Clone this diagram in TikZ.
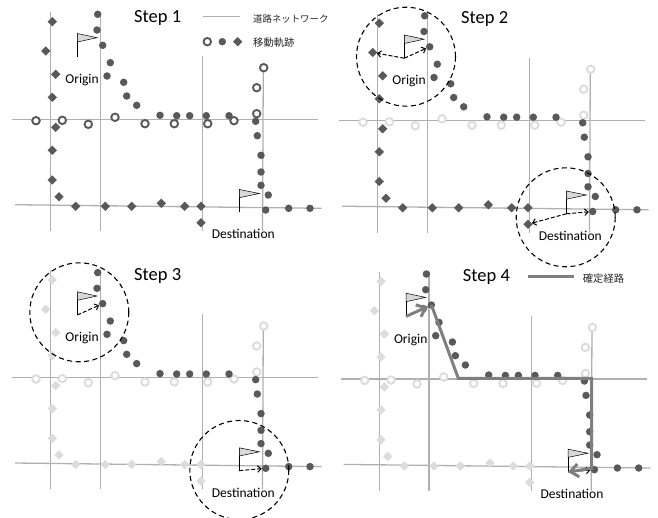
\documentclass[tikz,border=0pt]{standalone}
\usepackage{fontspec}
\setmainfont{Carlito}
\newfontfamily\cjkfont{Noto Sans CJK JP}
\usetikzlibrary{arrows.meta,shapes.geometric}
\definecolor{ink}{HTML}{595959}
\definecolor{faded}{HTML}{DCDCDC}
\definecolor{roadgray}{HTML}{B0B0B0}
\definecolor{routegray}{HTML}{7F7F7F}
\definecolor{flaggray}{HTML}{D9D9D9}
\tikzset{
  road/.style={draw=roadgray, line width=1.3pt},
  dotmark/.style={circle, fill=ink, inner sep=0pt, minimum size=7.5pt},
  diamark/.style={diamond, fill=#1, inner sep=0pt, minimum size=9.5pt},
  diamark/.default=ink,
  ringmark/.style={circle, draw=#1, fill=white, line width=1.9pt,
    inner sep=0pt, minimum size=7.5pt},
  ringmark/.default=ink,
  flagcloth/.style={draw=black, fill=flaggray, line width=0.5pt},
  flagpole/.style={draw=black, line width=0.8pt},
  searcharea/.style={circle, draw=black, dashed, dash pattern=on 5pt off 3.5pt,
    line width=1.1pt, inner sep=0pt, minimum size=99pt},
  searcharrow/.style={draw=black, line width=1pt, dash pattern=on 4pt off 2pt,
    -{Straight Barb[length=3.5pt,width=6.5pt]}},
  routeline/.style={draw=routegray, line width=3pt},
  routearrow/.style={routeline, -{Straight Barb[length=8pt,width=13pt]}},
  steptitle/.style={font=\fontsize{18.5}{20}\selectfont},
  placelabel/.style={font=\fontsize{13.5}{15}\selectfont},
  legendtext/.style={font=\cjkfont\fontsize{#1}{11}\selectfont, text=black!85, anchor=west, inner sep=0pt},
  legendtext/.default=10.3,
}
\newcommand{\diamondpts}{52.3/21.7,45.7/51,55.7/74.3,52.3/97.3,55.7/127.3,52.3/150.3,52.3/180,59/196.7,75.7/206.3,105.3/206.3,131.7/206.3,161.3/203.3,184.7/206.3,201/206.3,201/222.7}
\newcommand{\dotpts}{97.7/14.3,97/30,102.7/45.3,110.3/62.7,107/76,123.7/82.3,126.7/96,136.7/105.3,160/115.3,176.7/115.7,189.7/115.7,206.3/115.7,229/115.7,255.7/121.3,257.3/135.7,261/155.3,261/172,261/185.3,268.3/195,265.7/210,288.7/208.3,310/208.3}
\newcommand{\ringpts}{36/120.7,62.3/120.3,88.3/124.3,115/117.3,145/123.7,174.3/123.7,207.7/123.7,234/120.7,256.7/113.7,256.7/87.7,263.7/67.7}
% #1 prefix, #2 shift, #3 diamond colour, #4 ring colour, #5 title
\newcommand{\steppanel}[5]{
  \begin{scope}[shift={(#2)}]
    \coordinate (#1org) at (77.3,56.7);
    \coordinate (#1dst) at (239.3,212.3);
    \draw[road] (50.5,12) -- (50.5,231);
    \draw[road] (100.3,12) -- (100.3,231);
    \draw[road] (202.7,56) -- (202.7,231);
    \draw[road] (263.3,65) -- (262.5,231);
    \draw[road] (12,119.3) -- (318,119.3);
    \draw[road] (15,204.7) -- (321.7,208.3);
    \foreach \x/\y [count=\i] in \ringpts
      \node[ringmark=#4] (#1r\i) at (\x,\y) {};
    \foreach \x/\y [count=\i] in \diamondpts
      \node[diamark=#3] (#1m\i) at (\x,\y) {};
    \foreach \x/\y [count=\i] in \dotpts
      \node[dotmark] (#1d\i) at (\x,\y) {};
    \draw[flagpole] (#1org) -- ++(0,-23);
    \draw[flagcloth] (77.3,33.5) -- (97,37.7) -- (77.3,42) -- cycle;
    \draw[flagpole] (#1dst) -- ++(0,-23);
    \draw[flagcloth] (239.3,189.5) -- (259.3,193.5) -- (239.3,197.7) -- cycle;
    \node[placelabel] (#1olabel) at (82,80) {Origin};
    \node[placelabel] (#1dlabel) at (243.3,234.3) {Destination};
    \node[steptitle] (#1title) at (157.7,17.7) {#5};
  \end{scope}
}

\begin{document}
\begin{tikzpicture}[x=1pt,y=-1pt]
  \useasboundingbox (0,0) rectangle (658,517);

  % ── Step 1 ────────────────
  \steppanel{a}{0,0}{ink}{ink}{Step 1}
  \coordinate (legl) at (203.3,16.7);
  \coordinate (legr) at (240,16.7);
  \draw[road] (legl) -- (legr);
  \node[legendtext=9.4] (legroad) at (253,19) {道路ネットワーク};
  \node[ringmark] (legring) at (207.3,41.7) {};
  \node[dotmark] (legdot) at (222.3,41.7) {};
  \node[diamark] (legdia) at (237.7,41.7) {};
  \node[legendtext] (legtrack) at (253,42.5) {移動軌跡};

  % ── Step 2 ────────────────
  \steppanel{b}{327,1.5}{ink}{faded}{Step 2}
  \node[searcharea] (bcircO) at (406,56.7) {};
  \node[searcharea] (bcircD) at (565.7,217.3) {};
  \draw[searcharrow] (borg) -- (bm2);
  \draw[searcharrow] (borg) -- (bd3);
  \draw[searcharrow] (bdst) -- (bd20);
  \draw[searcharrow] (bdst) -- (bm15);

  % ── Step 3 ────────────────
  \steppanel{c}{0,258.3}{faded}{faded}{Step 3}
  \node[searcharea] (ccircO) at (79.3,312.3) {};
  \node[searcharea] (ccircD) at (239.3,470) {};
  \draw[searcharrow] (corg) -- (cd3);
  \draw[searcharrow] (cdst) -- (cd20);

  % ── Step 4 ────────────────
  \steppanel{e}{328.7,259.7}{faded}{faded}{Step 4}
  \coordinate (ekink) at (458.3,378.3);
  \coordinate (ecorner) at (591.7,378.3);
  \coordinate (edrop) at (591.7,468.3);
  \draw[searcharrow] (eorg) -- (ed3);
  \draw[searcharrow] (edst) -- (ed20);
  \draw[routearrow] (eorg) -- (ed3);
  \draw[routearrow] (ed3.center) -- (ekink) -- (ecorner) -- (edrop) -- (edst);
  \coordinate (elegl) at (528.3,276);
  \coordinate (elegr) at (574.3,276);
  \draw[routeline] (elegl) -- (elegr);
  \node[legendtext] (eroute) at (582.7,278.3) {確定経路};
\end{tikzpicture}
\end{document}
